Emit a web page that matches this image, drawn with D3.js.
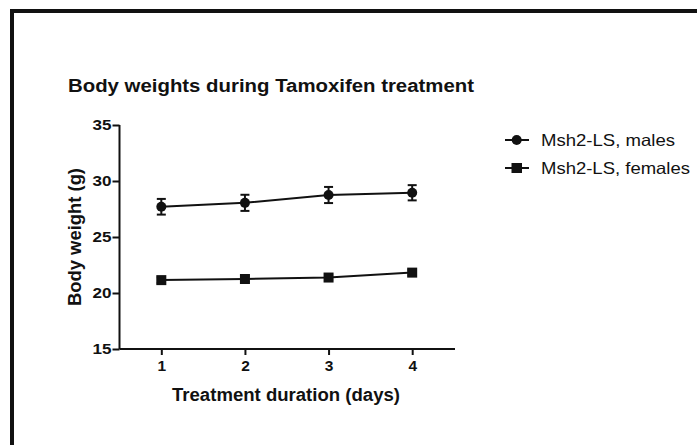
<!DOCTYPE html>
<html><head><meta charset="utf-8">
<script src="https://cdn.jsdelivr.net/npm/d3@7"></script>
<style>body{margin:0;background:#fff;}svg{display:block;font-family:"Liberation Sans",Arial,sans-serif;}</style>
</head><body>
<script>
const days = [1, 2, 3, 4];
const malesMean = [27.7, 28.05, 28.75, 28.95];
const malesErr = [0.7, 0.72, 0.72, 0.68];
const femalesMean = [21.15, 21.25, 21.38, 21.82];
const femalesErr = [0.25, 0.25, 0.25, 0.25];
const yTicks = [15, 20, 25, 30, 35];
const seriesNames = ["Msh2-LS, males", "Msh2-LS, females"];

const W = 697, H = 445;
const svg = d3.select("body").append("svg").attr("width", W).attr("height", H);
svg.append("rect").attr("width", W).attr("height", H).attr("fill", "#fff");
// frame
svg.append("rect").attr("x", 12).attr("y", 11).attr("width", 700).attr("height", 450)
  .attr("fill", "none").attr("stroke", "#111").attr("stroke-width", 4);

const x = d3.scaleLinear().domain([0.5, 4.5]).range([119.5, 454]);
const y = d3.scaleLinear().domain([15, 35]).range([349, 125]);

function stretch(sel, len) {
  return sel.attr("textLength", len).attr("lengthAdjust", "spacingAndGlyphs");
}

stretch(svg.append("text").attr("x", 68).attr("y", 92).text("Body weights during Tamoxifen treatment")
  .attr("font-weight", "bold").attr("font-size", 18).attr("fill", "#111"), 406);

const ya = svg.append("g").attr("transform", "translate(119.5,0)")
  .call(d3.axisLeft(y).tickValues(yTicks).tickSize(7).tickPadding(1));
const xa = svg.append("g").attr("transform", "translate(0,349)")
  .call(d3.axisBottom(x).tickValues(days).tickSize(6).tickPadding(5).tickFormat(d3.format("d")));
[ya, xa].forEach(a => {
  a.select(".domain").attr("stroke", "#111").attr("stroke-width", 2);
  a.selectAll(".tick line").attr("stroke", "#111").attr("stroke-width", 2);
  a.selectAll(".tick text").attr("font-size", 15.5).attr("font-weight", "bold").attr("fill", "#111")
    .attr("font-family", "Liberation Sans, Arial, sans-serif");
});
ya.selectAll(".tick text").attr("textLength", 19).attr("lengthAdjust", "spacingAndGlyphs");
ya.select(".domain").attr("d", "M0,125V349");
xa.select(".domain").attr("d", "M119.5,0H455");

stretch(svg.append("text").attr("transform", "translate(81,237) rotate(-90)").attr("text-anchor", "middle")
  .text("Body weight (g)").attr("font-weight", "bold").attr("font-size", 17.5).attr("fill", "#111"), 138);
stretch(svg.append("text").attr("x", 286).attr("y", 401).attr("text-anchor", "middle")
  .text("Treatment duration (days)").attr("font-weight", "bold").attr("font-size", 17.5).attr("fill", "#111"), 228);

const line = d3.line().x(d => x(d[0])).y(d => y(d[1]));
function drawSeries(mean, err, shape) {
  const pts = days.map((d, i) => [d, mean[i], err[i]]);
  const g = svg.append("g");
  g.append("path").attr("d", line(pts)).attr("fill", "none").attr("stroke", "#111").attr("stroke-width", 2);
  pts.forEach(p => {
    const cx = x(p[0]);
    g.append("line").attr("x1", cx).attr("x2", cx).attr("y1", y(p[1] - p[2])).attr("y2", y(p[1] + p[2]))
      .attr("stroke", "#111").attr("stroke-width", 2);
    [p[1] - p[2], p[1] + p[2]].forEach(v => g.append("line").attr("x1", cx - 4.5).attr("x2", cx + 4.5)
      .attr("y1", y(v)).attr("y2", y(v)).attr("stroke", "#111").attr("stroke-width", 2));
    if (shape === "circle") g.append("circle").attr("cx", cx).attr("cy", y(p[1])).attr("r", 5).attr("fill", "#111");
    else g.append("rect").attr("x", cx - 5).attr("y", y(p[1]) - 5).attr("width", 10).attr("height", 10).attr("fill", "#111");
  });
}
drawSeries(malesMean, malesErr, "circle");
drawSeries(femalesMean, femalesErr, "square");

// legend
const lg = svg.append("g");
const legendLens = [134, 149];
seriesNames.forEach((name, i) => {
  const ly = 140 + i * 28;
  lg.append("line").attr("x1", 505).attr("x2", 529).attr("y1", ly).attr("y2", ly).attr("stroke", "#111").attr("stroke-width", 2);
  if (i === 0) lg.append("circle").attr("cx", 516.7).attr("cy", ly).attr("r", 5).attr("fill", "#111");
  else lg.append("rect").attr("x", 511.5).attr("y", ly - 5).attr("width", 10.5).attr("height", 10).attr("fill", "#111");
  stretch(lg.append("text").attr("x", 541).attr("y", ly + 6).text(name).attr("font-size", 16.5).attr("fill", "#111"), legendLens[i]);
});
</script>
</body></html>
